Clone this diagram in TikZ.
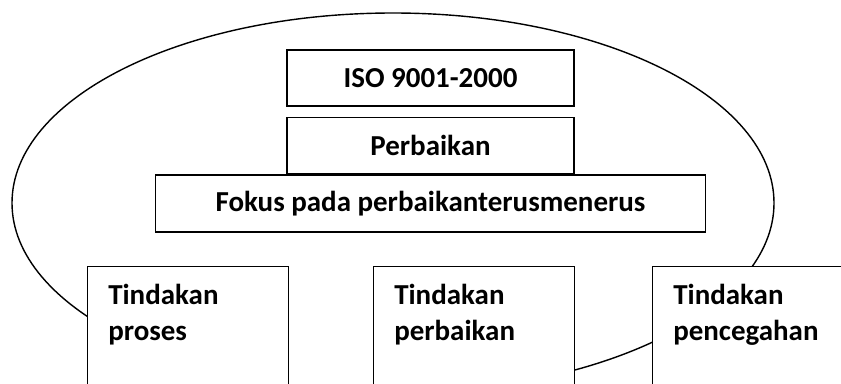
\documentclass[tikz,border=0pt]{standalone}
\usepackage{fontspec}
\setmainfont{Carlito}
\usetikzlibrary{positioning}

\begin{document}
\begin{tikzpicture}[
  x=1cm,
  y=1cm,
  every node/.style={font=\fontsize{20.6}{25.5}\selectfont\bfseries},
  diagline/.style={black, line width=1pt},
  topbox/.style={draw, diagline, fill=white, minimum height=1.4cm, inner sep=0pt},
  lowbox/.style={draw, diagline, fill=white, anchor=north west,
                 minimum width=5.025cm, minimum height=4cm, inner sep=0pt},
  lowtext/.style={align=left, inner sep=0pt}
]
  \useasboundingbox (0,0) rectangle (21.025,9.575);
  \clip (0,0) rectangle (21.025,9.575);

  % ---- the loop behind everything ------------------------------------
  \draw[diagline] (9.825,4.5) ellipse [x radius=9.525cm, y radius=4.75cm];

  % ---- stacked boxes ----------------------------------------------------
  \node[topbox, minimum width=7.175cm] (iso) at (10.7625,7.625) {ISO 9001-2000};
  \node[topbox, minimum width=7.175cm, below=0.25cm of iso] (perbaikan) {Perbaikan};
  \node[topbox, minimum width=13.75cm, minimum height=1.425cm,
        below=0pt of perbaikan] (fokus) {Fokus pada perbaikanterusmenerus};

  % ---- the three actions ------------------------------------------------
  \node[lowbox] (proses) at (2.175,2.925) {};
  \node[lowbox] (koreksi) at (9.325,2.925) {};
  \node[lowbox] (pencegahan) at (16.3,2.925) {};

  \node[lowtext, below right=0.45cm and 0.525cm of proses.north west]
    (prosestext) {Tindakan\\proses};
  \node[lowtext, below right=0.45cm and 0.525cm of koreksi.north west]
    (koreksitext) {Tindakan\\perbaikan};
  \node[lowtext, below right=0.45cm and 0.525cm of pencegahan.north west]
    (pencegahantext) {Tindakan\\pencegahan};
\end{tikzpicture}
\end{document}
